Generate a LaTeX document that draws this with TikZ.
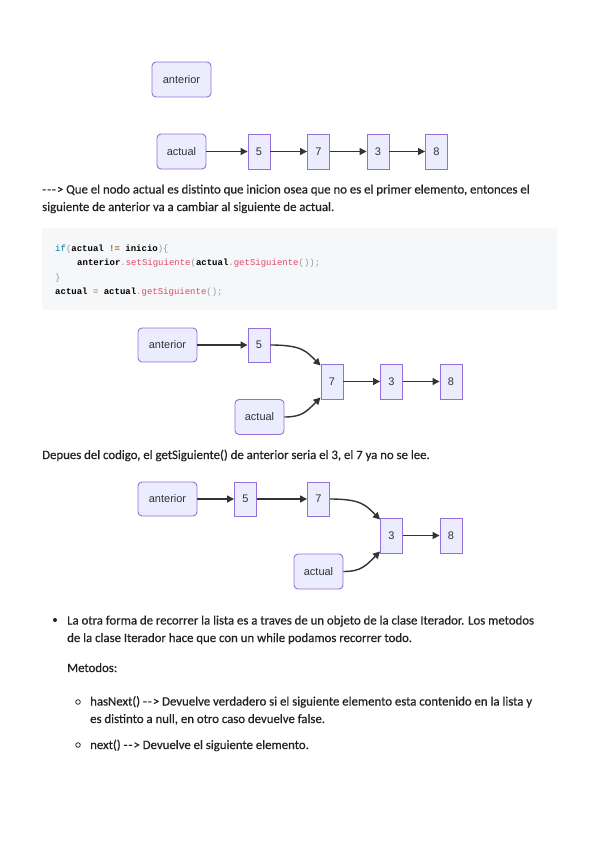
\documentclass[tikz,border=0pt]{standalone}
\usepackage{fontspec}
\setmainfont{Carlito}[FakeBold=0.6]
\newfontfamily\lblfont{Liberation Sans}
\newfontfamily\codefont{Liberation Mono}
\usetikzlibrary{arrows.meta}
\definecolor{nfill}{HTML}{ECECFF}
\definecolor{nline}{HTML}{9370DB}
\definecolor{arrc}{HTML}{333333}
\definecolor{txt}{HTML}{222222}
\definecolor{codebg}{HTML}{F6F7F9}
\definecolor{kw}{HTML}{0077AA}
\definecolor{pu}{HTML}{999999}
\definecolor{op}{HTML}{9A6E3A}
\definecolor{fn}{HTML}{DD4A68}
\tikzset{
  base/.style={draw=nline, fill=nfill, line width=0.9pt, inner sep=0pt, text=arrc,
    font=\lblfont\fontsize{11}{13}\selectfont, minimum height=35pt},
  tbox/.style={base, rounded corners=4pt},
  nbox/.style={base, minimum width=22pt},
  arr/.style={draw=arrc, line width=1.4pt, -{Triangle[length=7pt,width=7pt]}},
  para/.style={anchor=base west, inner sep=0pt, text=txt, align=left,
    font=\fontsize{12.8}{17.5}\selectfont},
  code/.style={anchor=base west, inner sep=0pt, text=black,
    font=\codefont\bfseries\fontsize{9}{10}\selectfont}
}
\newcommand{\cpu}[1]{{\color{pu}\mdseries #1}}
\newcommand{\cfn}[1]{{\color{fn}\mdseries #1}}
\newcommand{\hy}{\mbox{-}\kern1pt}
\begin{document}
\begin{tikzpicture}[x=1pt,y=-1pt]
\useasboundingbox (0,0) rectangle (600,848);

% ---- diagram 1
\node[tbox, minimum width=59pt] (a1) at (181.5,79.5) {anterior};
\node[tbox, minimum width=49pt] (c1) at (181.5,151.5) {actual};
\node[nbox] (p5) at (259,151.5) {5};
\node[nbox] (p7) at (318.5,151.5) {7};
\node[nbox] (p3) at (378,151.5) {3};
\node[nbox] (p8) at (436.5,151.5) {8};
\draw[arr] (c1) -- (p5);
\draw[arr] (p5) -- (p7);
\draw[arr] (p7) -- (p3);
\draw[arr] (p3) -- (p8);

\node[para] (t1) at (42,211) {\hy\hy\hy> Que el nodo actual es distinto que inicion osea que no es el primer elemento, entonces el\\siguiente de anterior va a cambiar al siguiente de actual.};

% ---- code block
\node[fill=codebg, rounded corners=2pt, minimum width=515pt, minimum height=82pt, inner sep=0pt] (cb) at (299.5,269) {};
\node[code] (l1) at (55,251) {{\color{kw}\mdseries if}\cpu{(}actual {\color{op}!=} inicio\cpu{)\{}};
\node[code] (l2) at (77,265.5) {anterior\cpu{.}\cfn{setSiguiente}\cpu{(}actual\cpu{.}\cfn{getSiguiente}\cpu{());}};
\node[code] (l3) at (55,280) {\cpu{\}}};
\node[code] (l4) at (55,294.5) {actual {\color{op}\mdseries=} actual\cpu{.}\cfn{getSiguiente}\cpu{();}};

% ---- diagram 2
\node[tbox, minimum width=59pt, minimum height=34pt] (a2) at (167.5,345) {anterior};
\node[nbox, minimum height=34pt] (q5) at (259,345) {5};
\node[nbox] (q7) at (332,381.5) {7};
\node[nbox] (q3) at (391.5,381.5) {3};
\node[nbox] (q8) at (451,381.5) {8};
\node[tbox, minimum width=49pt] (c2) at (259.5,417) {actual};
\draw[arr] (a2) -- (q5);
\draw[arr] (q5.east) .. controls +(32,0) and +(-14,-14) .. ([yshift=-2pt]q7.north west);
\draw[arr] (c2.east) .. controls +(18,0) and +(-14,14) .. ([yshift=2pt]q7.south west);
\draw[arr] (q7) -- (q3);
\draw[arr] (q3) -- (q8);

\node[para] (t2) at (42,459) {Depues del codigo, el getSiguiente() de anterior seria el 3, el 7 ya no se lee.};

% ---- diagram 3
\node[tbox, minimum width=59pt, minimum height=34pt] (a3) at (167.5,499) {anterior};
\node[nbox, minimum height=34pt] (r5) at (245.5,499) {5};
\node[nbox, minimum height=34pt] (r7) at (318.5,499) {7};
\node[nbox] (r3) at (391.5,535.5) {3};
\node[nbox] (r8) at (451,535.5) {8};
\node[tbox, minimum width=49pt] (c3) at (318.5,571.5) {actual};
\draw[arr] (a3) -- (r5);
\draw[arr] (r5) -- (r7);
\draw[arr] (r7.east) .. controls +(32,0) and +(-14,-14) .. ([yshift=-2pt]r3.north west);
\draw[arr] (c3.east) .. controls +(18,0) and +(-14,14) .. ([yshift=2pt]r3.south west);
\draw[arr] (r3) -- (r8);

% ---- list
\fill[txt] (55,620) circle (2pt);
\node[para] (b1) at (67,642) {La otra forma de recorrer la lista es a traves de un objeto de la clase Iterador. Los metodos\\de la clase Iterador hace que con un while podamos recorrer todo.};
\node[para] (m) at (67,672) {Metodos:};
\draw[txt, line width=0.8pt] (78,702) circle (2.3pt);
\node[para] (s1) at (90,723) {hasNext() \hy\hy> Devuelve verdadero si el siguiente elemento esta contenido en la lista y\\es distinto a null, en otro caso devuelve false.};
\draw[txt, line width=0.8pt] (78,745) circle (2.3pt);
\node[para] (s2) at (90,749) {next() \hy\hy> Devuelve el siguiente elemento.};
\end{tikzpicture}
\end{document}
